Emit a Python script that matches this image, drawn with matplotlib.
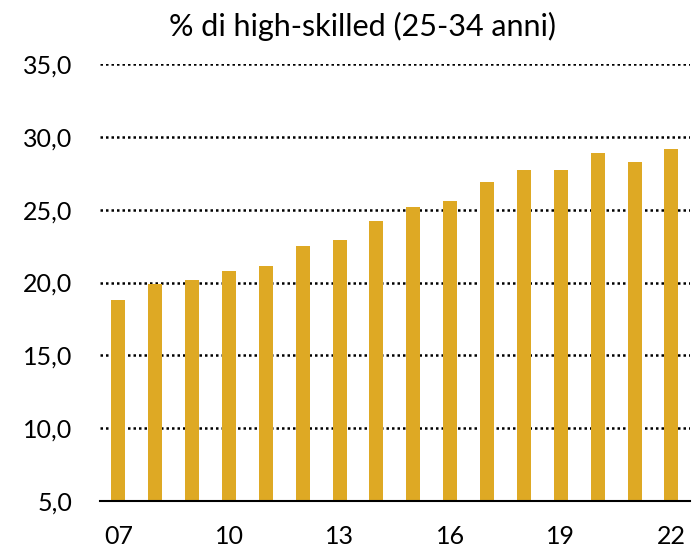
import matplotlib
matplotlib.use('Agg')
import matplotlib.pyplot as plt
import numpy as np

plt.rcParams['font.family'] = ['Lato', 'DejaVu Sans']

anni = ['07', '08', '09', '10', '11', '12', '13', '14', '15', '16', '17', '18', '19', '20', '21', '22']
quota = [18.8, 19.9, 20.2, 20.8, 21.1, 22.5, 22.9, 24.2, 25.2, 25.6, 26.9, 27.7, 27.7, 28.9, 28.3, 29.2]
yticks = [5, 10, 15, 20, 25, 30, 35]

fig = plt.figure(figsize=(6.94, 5.52), dpi=100)
ax = fig.add_axes([0.144, 0.0924, 0.85, 0.7916])

x = np.arange(len(anni))
ax.bar(x, np.array(quota) - 5, bottom=5, width=0.38, color='#DEA924', zorder=3)

ax.set_ylim(5, 35)
ax.set_xlim(-0.5, len(anni) - 0.5)
ax.set_yticks(yticks)
ax.set_yticklabels([('%.1f' % v).replace('.', ',') for v in yticks])
ax.set_xticks(x[::3])
ax.set_xticklabels(anni[::3])
ax.tick_params(axis='both', length=0, labelsize=18)
ax.tick_params(axis='y', pad=20)
ax.tick_params(axis='x', pad=17)

for v in yticks[1:]:
    ax.axhline(v, color='black', linestyle=(0, (1, 1.2)), linewidth=1.8, zorder=2)

for s in ['top', 'right', 'left']:
    ax.spines[s].set_visible(False)
ax.spines['bottom'].set_linewidth(1.5)
ax.spines['bottom'].set_zorder(4)

fig.text(0.522, 0.952, '% di high-skilled (25-34 anni)', ha='center', va='center', fontsize=22)

plt.savefig('out.png', dpi=100)
